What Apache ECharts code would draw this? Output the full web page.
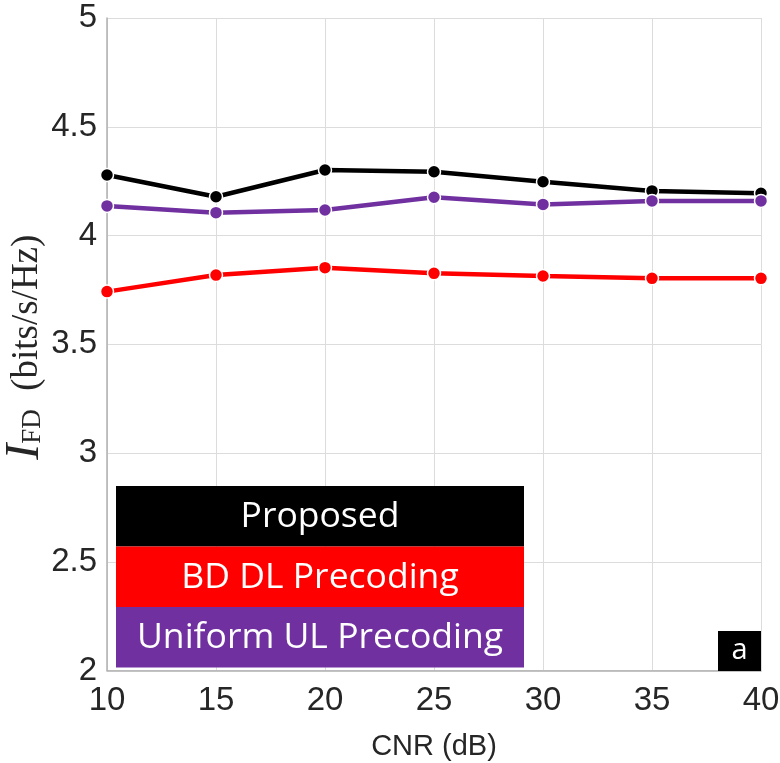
<!DOCTYPE html>
<html>
<head>
<meta charset="utf-8">
<script src="https://cdn.jsdelivr.net/npm/echarts@6/dist/echarts.min.js"></script>
<style>
  html, body { margin: 0; padding: 0; background: #fff; }
  #chart { width: 780px; height: 763px; }
</style>
</head>
<body>
<div id="chart"></div>
<script>
// CNR sweep (dB) and full-duplex rate per scheme (bits/s/Hz)
const cnr = [10, 15, 20, 25, 30, 35, 40];
const proposed = [4.278, 4.178, 4.301, 4.293, 4.247, 4.205, 4.194];
const bdDl = [3.742, 3.818, 3.852, 3.826, 3.814, 3.803, 3.803];
const uniformUl = [4.136, 4.105, 4.117, 4.176, 4.143, 4.159, 4.159];
const seriesNames = ['Proposed', 'BD DL Precoding', 'Uniform UL Precoding'];
const seriesColors = ['#000000', '#ff0000', '#7030a0'];
const panelTag = 'a';

const chart = echarts.init(document.getElementById('chart'));

function pairs(ys) { return cnr.map((x, i) => [x, ys[i]]); }

function lineSeries(name, ys, color) {
  return {
    name: name,
    type: 'line',
    data: pairs(ys),
    symbol: 'circle',
    symbolSize: 13,
    lineStyle: { color: color, width: 4.5 },
    itemStyle: { color: color, borderColor: '#fff', borderWidth: 1.5 },
    z: 3
  };
}

const sansFamily = 'Liberation Sans, Arial, sans-serif';
const serifFamily = 'Liberation Serif, DejaVu Serif, serif';
const tickFont = { fontFamily: sansFamily, fontSize: 33, color: '#262626' };

// legend block drawn as stacked coloured bands
const legendX = 116, legendY = 486, legendW = 408, rowH = 60.5;
const legendItems = seriesNames.map((n, i) => ({
  type: 'group',
  left: legendX, top: legendY + i * rowH,
  z: 100,
  children: [
    { type: 'rect', z: 100, shape: { x: 0, y: 0, width: legendW, height: rowH }, style: { fill: seriesColors[i] } },
    { type: 'text', z: 101, x: legendW / 2, y: rowH / 2 + 1,
      style: { text: n, fill: '#fff', font: '35.5px "Open Sans", Lato, sans-serif', align: 'center', verticalAlign: 'middle' } }
  ]
}));

chart.setOption({
  animation: false,
  grid: { left: 107, right: 19, top: 18, bottom: 92.5, containLabel: false, outerBoundsMode: 'none' },
  xAxis: {
    type: 'value', min: 10, max: 40, interval: 5,
    name: 'CNR (dB)', nameLocation: 'middle', nameGap: 62, nameMoveOverlap: false,
    nameTextStyle: { fontFamily: sansFamily, fontSize: 29, color: '#262626' },
    axisLine: { show: true, lineStyle: { color: '#b0b0b0', width: 1.5 } },
    axisTick: { show: false },
    axisLabel: Object.assign({ margin: 14 }, tickFont),
    splitLine: { show: true, lineStyle: { color: '#dcdcdc', width: 1 } }
  },
  yAxis: {
    type: 'value', min: 2, max: 5, interval: 0.5,
    name: '{i|I}{sub|FD}{sp|  }{u|(bits/s/Hz)}',
    nameLocation: 'middle', nameGap: 58, nameRotate: 90, nameMoveOverlap: false,
    nameTextStyle: {
      color: '#262626',
      padding: [0, 6, 0, 0],
      rich: {
        i: { fontFamily: serifFamily, fontStyle: 'italic', fontSize: 48, color: '#262626' },
        sub: { fontFamily: serifFamily, fontSize: 27, color: '#262626', padding: [16, 0, 0, 0] },
        sp: { fontSize: 37, fontFamily: serifFamily },
        u: { fontFamily: serifFamily, fontSize: 37, color: '#262626', padding: [4, 0, 0, 0] }
      }
    },
    axisLine: { show: true, lineStyle: { color: '#b0b0b0', width: 1.5 } },
    axisTick: { show: false },
    axisLabel: Object.assign({ margin: 10, formatter: v => String(v) }, tickFont),
    splitLine: { show: true, lineStyle: { color: '#dcdcdc', width: 1 } }
  },
  series: [
    lineSeries(seriesNames[0], proposed, seriesColors[0]),
    lineSeries(seriesNames[1], bdDl, seriesColors[1]),
    lineSeries(seriesNames[2], uniformUl, seriesColors[2])
  ],
  graphic: legendItems.concat([{
    type: 'group', left: 718, top: 631, z: 100,
    children: [
      { type: 'rect', z: 100, shape: { x: 0, y: 0, width: 43, height: 40 }, style: { fill: '#000' } },
      { type: 'text', z: 101, x: 21.5, y: 20, style: { text: panelTag, fill: '#fff', font: '29px "Open Sans", Lato, sans-serif', align: 'center', verticalAlign: 'middle' } }
    ]
  }])
});
</script>
</body>
</html>
